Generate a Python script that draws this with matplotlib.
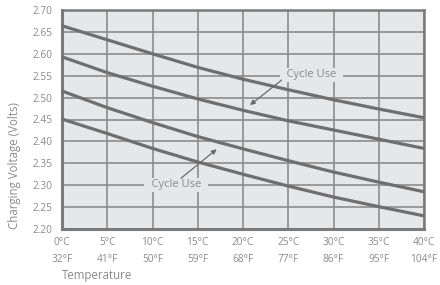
import matplotlib
matplotlib.use("Agg")
import matplotlib.pyplot as plt

temps_c = [0, 5, 10, 15, 20, 25, 30, 35, 40]
temps_f = [32, 41, 50, 59, 68, 77, 86, 95, 104]
curve_1 = [2.664, 2.632, 2.600, 2.569, 2.542, 2.518, 2.495, 2.474, 2.454]
curve_2 = [2.593, 2.557, 2.526, 2.497, 2.471, 2.447, 2.426, 2.405, 2.384]
curve_3 = [2.515, 2.477, 2.443, 2.411, 2.383, 2.356, 2.330, 2.307, 2.285]
curve_4 = [2.451, 2.418, 2.384, 2.353, 2.325, 2.298, 2.273, 2.251, 2.230]
y_ticks = [2.20, 2.25, 2.30, 2.35, 2.40, 2.45, 2.50, 2.55, 2.60, 2.65, 2.70]
x_labels = [f"{c}\u00b0C\n{f}\u00b0F" for c, f in zip(temps_c, temps_f)]
annot_label = "Cycle Use"

plt.rcParams['font.family'] = ['Open Sans', 'DejaVu Sans']

BG = '#e6e7e9'
GRID = '#8c8c8c'
LINE = '#6f6f6f'
TXT = '#8a8a8a'

fig = plt.figure(figsize=(4.4, 2.85), dpi=100)
ax = fig.add_axes([62/440, 1-229/285, (424-62)/440, (229-10)/285])
ax.set_facecolor(BG)
ax.set_xlim(0, 40)
ax.set_ylim(2.20, 2.70)
ax.set_xticks(temps_c)
ax.set_xticklabels(x_labels, linespacing=1.75)
ax.set_yticks(y_ticks)
ax.set_yticklabels([f"{v:.2f}" for v in y_ticks])
ax.tick_params(length=0, colors=TXT, labelsize=7.3)
ax.tick_params(axis='x', pad=6)
ax.tick_params(axis='y', pad=7)
ax.grid(True, color=GRID, lw=1.2, zorder=1)
ax.set_axisbelow(True)
for s in ax.spines.values():
    s.set_color('#7a7a7a')
    s.set_linewidth(1.8)
ax.spines['left'].set_linewidth(2.2)
ax.spines['bottom'].set_linewidth(2.2)

for ys in (curve_1, curve_2, curve_3, curve_4):
    ax.plot(temps_c, ys, color=LINE, lw=2.3, zorder=3, solid_capstyle='butt',
            solid_joinstyle='round')

bbox = dict(boxstyle='square,pad=0.12', fc=BG, ec='none')
ax.text(27.55, 2.552, "\u2002" + annot_label + "\u2002", ha='center', va='center',
        fontsize=8, color=TXT, bbox=bbox, zorder=4)
ax.text(12.6, 2.301, "\u2002" + annot_label + "\u2002", ha='center', va='center',
        fontsize=8, color=TXT, bbox=bbox, zorder=4)

arrow = dict(arrowstyle='-|>', color='#6a6a6a', lw=0.9, mutation_scale=7,
             shrinkA=0, shrinkB=0)
ax.annotate('', xy=(20.77, 2.483), xytext=(24.27, 2.540), arrowprops=arrow, zorder=5)
ax.annotate('', xy=(17.09, 2.382), xytext=(13.15, 2.316), arrowprops=arrow, zorder=5)

fig.text(62/440, 1-276/285, "Temperature", ha='left', va='center', fontsize=8.3, color=TXT)
fig.text(15/440, 1-229/285, "Charging Voltage (Volts)", ha='center', va='bottom',
         rotation=90, fontsize=8.3, color=TXT)

fig.savefig('out.png', dpi=100)
